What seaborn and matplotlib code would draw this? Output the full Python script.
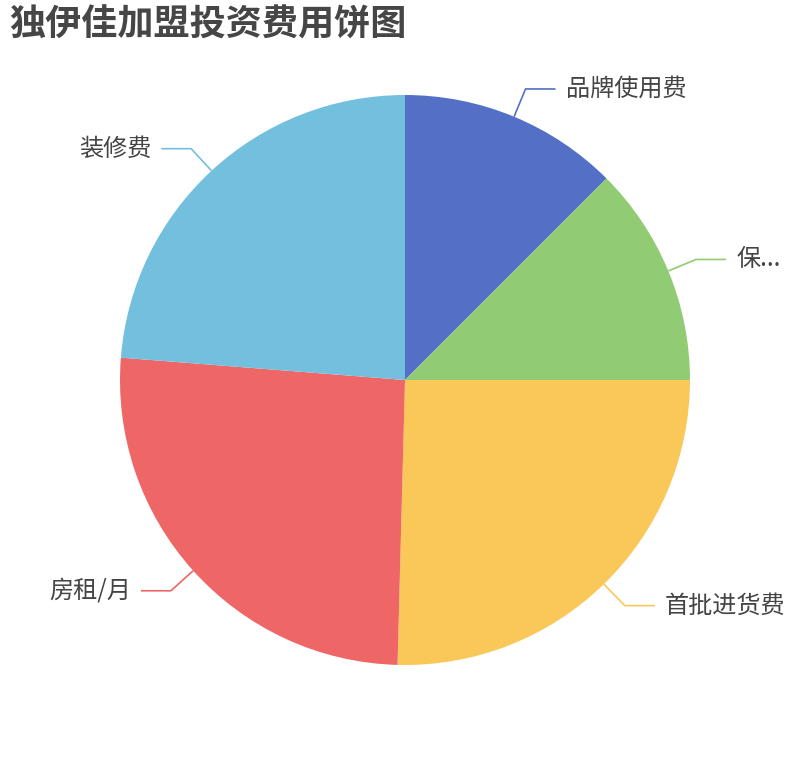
import matplotlib
matplotlib.use("Agg")
import matplotlib.pyplot as plt
import seaborn as sns
import numpy as np

# Data
labels = ["品牌使用费", "保...", "首批进货费", "房租/月", "装修费"]
values = [3.0, 3.0, 6.1, 6.2, 5.7]
colors = ["#5470c6", "#91cc75", "#fac858", "#ee6666", "#73c0de"]
title = "独伊佳加盟投资费用饼图"

sns.set_theme(style="white")
plt.rcParams["font.family"] = ["Noto Sans CJK SC", "DejaVu Sans"]

fig = plt.figure(figsize=(8.1, 7.6), dpi=100)
ax = fig.add_axes([0, 0, 1, 1])

cx, cy, r = 405, 380, 285
wedges, _ = ax.pie(values, colors=colors, startangle=90, counterclock=False,
                   center=(cx, cy), radius=r,
                   wedgeprops=dict(linewidth=0))
ax.set_xlim(0, 810)
ax.set_ylim(0, 760)
ax.set_aspect("equal")
ax.axis("off")

# leader lines + labels
for w, lab, col in zip(wedges, labels, colors):
    mid = np.deg2rad((w.theta1 + w.theta2) / 2)
    dx, dy = np.cos(mid), np.sin(mid)
    x0, y0 = cx + r * dx, cy + r * dy
    x1, y1 = cx + (r + 30) * dx, cy + (r + 30) * dy
    side = 1 if dx >= 0 else -1
    x2 = x1 + side * 30
    ax.plot([x0, x1, x2], [y0, y1, y1], color=col, lw=1.2, solid_capstyle="butt")
    ax.text(x2 + side * 10, y1, lab, ha="left" if side > 0 else "right",
            va="center", fontsize=17.4, color="#444444")

fig.text(9 / 810, 1 - 25.5 / 760, title, ha="left", va="center",
         fontsize=26, fontweight="bold", color="#464646")

plt.savefig("out.png", dpi=100)
plt.close()
